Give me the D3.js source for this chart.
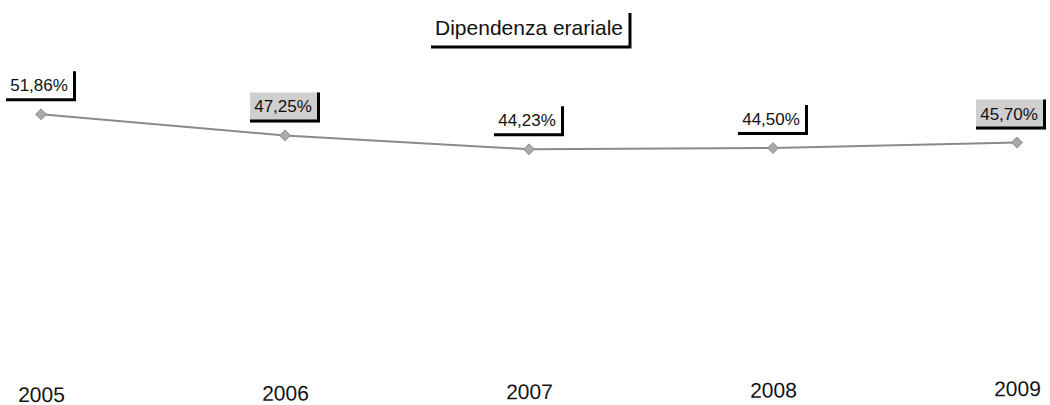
<!DOCTYPE html>
<html>
<head>
<meta charset="utf-8">
<script src="https://cdn.jsdelivr.net/npm/d3@7"></script>
<style>
    body { margin: 0; background: #fff; }
    text { font-family: "Liberation Sans", Arial, sans-serif; fill: #111; }
</style>
</head>
<body>
<script>
// data
var years = ["2005", "2006", "2007", "2008", "2009"];
var values = [51.86, 47.25, 44.23, 44.50, 45.70];
var labels = ["51,86%", "47,25%", "44,23%", "44,50%", "45,70%"];
var shaded = [false, true, false, false, true];
var title = "Dipendenza erariale";

var width = 1050,
    height = 405;

var svg = d3.select("body").append("svg")
    .attr("width", width)
    .attr("height", height);

var x = d3.scalePoint()
    .domain(years)
    .range([41, 1017]);

var y = d3.scaleLinear()
    .domain([0, 60])
    .range([352, 77]);

var data = years.map(function (d, i) {
    return {year: d, value: values[i], label: labels[i], shaded: shaded[i]};
});

// title with shadow box
var tg = svg.append("g").attr("class", "title");
var tt = tg.append("text")
    .attr("x", 529)
    .attr("y", 35)
    .attr("text-anchor", "middle")
    .style("font-size", "21px")
    .text(title);
var tb = tt.node().getBBox();
tg.append("path")
    .attr("d", "M" + (tb.x - 4) + "," + (tb.y + tb.height + 8) +
        "H" + (tb.x + tb.width + 7) + "V" + (tb.y - 3))
    .attr("fill", "none")
    .attr("stroke", "#000")
    .attr("stroke-width", 3);

// line
var line = d3.line()
    .x(function (d) { return x(d.year); })
    .y(function (d) { return y(d.value); });

svg.append("path")
    .datum(data)
    .attr("fill", "none")
    .attr("stroke", "#8a8a8a")
    .attr("stroke-width", 2)
    .attr("d", line);

svg.selectAll(".pt")
    .data(data)
    .enter().append("path")
    .attr("class", "pt")
    .attr("transform", function (d) { return "translate(" + x(d.year) + "," + y(d.value) + ")"; })
    .attr("d", d3.symbol().type(d3.symbolDiamond2).size(75))
    .attr("fill", "#aaa")
    .attr("stroke", "#8c8c8c")
    .attr("stroke-width", 1);

// value labels
var bw = 70, bh = 30;
var lg = svg.selectAll(".lbl")
    .data(data)
    .enter().append("g")
    .attr("class", "lbl")
    .attr("transform", function (d) {
        var cx = Math.min(x(d.year), width - 4 - bw / 2);
        return "translate(" + cx + "," + (y(d.value) - 13) + ")";
    });

lg.append("rect")
    .attr("x", -bw / 2)
    .attr("y", -bh)
    .attr("width", bw)
    .attr("height", bh)
    .attr("fill", function (d) { return d.shaded ? "#cfcfcf" : "#fff"; });

lg.append("path")
    .attr("d", "M" + (-bw / 2) + ",-1.5H" + (bw / 2 - 1.5) + "V" + (-bh))
    .attr("fill", "none")
    .attr("stroke", "#000")
    .attr("stroke-width", 3);

lg.append("text")
    .attr("x", -2)
    .attr("y", -10)
    .attr("text-anchor", "middle")
    .style("font-size", "17px")
    .text(function (d) { return d.label; });

// year axis, scan is slightly tilted
var xAxis = d3.axisBottom(x).tickSize(0).tickPadding(0);
var ax = svg.append("g")
    .attr("transform", "translate(0,399) rotate(-0.35, 529, 0)")
    .call(xAxis);
ax.select(".domain").remove();
ax.selectAll("text")
    .attr("dy", "0")
    .style("font-size", "21px")
    .style("font-family", "'Liberation Sans', Arial, sans-serif")
    .attr("fill", "#111");
</script>
</body>
</html>
